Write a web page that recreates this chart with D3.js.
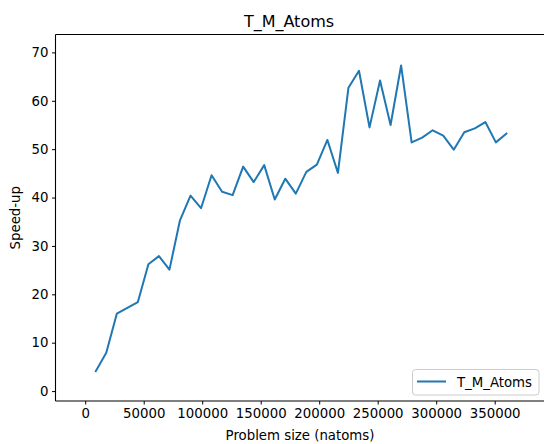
<!DOCTYPE html>
<html>
<head>
<meta charset="utf-8">
<script src="https://cdn.jsdelivr.net/npm/d3@7/dist/d3.min.js"></script>
<style>
  html, body { margin: 0; padding: 0; background: #fff; }
  svg { display: block; font-family: "DejaVu Sans", sans-serif; }
</style>
</head>
<body>
<svg id="chart" width="544" height="444"></svg>
<script>
// ---- data ----
const problemSize = [9000, 18000, 27000, 36000, 45000, 54000, 63000, 72000, 81000, 90000,
  99000, 108000, 117000, 126000, 135000, 144000, 153000, 162000, 171000, 180000,
  189000, 198000, 207000, 216000, 225000, 234000, 243000, 252000, 261000, 270000,
  279000, 288000, 297000, 306000, 315000, 324000, 333000, 342000, 351000, 360000];
const speedUp = [4.1, 7.9, 16.0, 17.2, 18.4, 26.2, 27.9, 25.1, 35.3, 40.4,
  37.8, 44.6, 41.2, 40.5, 46.4, 43.2, 46.7, 39.6, 43.9, 40.8,
  45.3, 46.8, 51.9, 45.1, 62.7, 66.2, 54.5, 64.2, 55.0, 67.3,
  51.4, 52.4, 53.9, 52.8, 49.9, 53.5, 54.3, 55.6, 51.4, 53.2];
const xTicks = [0, 50000, 100000, 150000, 200000, 250000, 300000, 350000];
const yTicks = [0, 10, 20, 30, 40, 50, 60, 70];
const seriesName = "T_M_Atoms";
const chartTitle = "T_M_Atoms";
const xLabel = "Problem size (natoms)";
const yLabel = "Speed-up";

// ---- layout ----
const pLeft = 55.5, pRight = 545, pTop = 34.5, pBottom = 401;
const svg = d3.select("#chart");
const fs = 13.3;

const x = d3.scaleLinear().domain([-25400, 393000]).range([pLeft, pRight]);
const y = d3.scaleLinear().domain([-2.05, 73.7]).range([pBottom, pTop]);

// axes
const xAxis = d3.axisBottom(x).tickValues(xTicks).tickFormat(d3.format("d")).tickSizeOuter(0).tickSize(3.5).tickPadding(3.5);
const yAxis = d3.axisLeft(y).tickValues(yTicks).tickFormat(d3.format("d")).tickSizeOuter(0).tickSize(3.5).tickPadding(3.5);

const gx = svg.append("g").attr("transform", `translate(0,${pBottom})`).call(xAxis);
const gy = svg.append("g").attr("transform", `translate(${pLeft},0)`).call(yAxis);
[gx, gy].forEach(g => {
  g.selectAll("text").attr("font-size", fs).attr("font-family", "DejaVu Sans").attr("fill", "#000");
  g.selectAll("line").attr("stroke", "#000").attr("stroke-width", 1);
  g.select(".domain").remove();
});
gx.selectAll("text").attr("dy", "0.75em");

// spines
svg.append("line").attr("x1", pLeft).attr("x2", pLeft).attr("y1", pTop).attr("y2", pBottom)
  .attr("stroke", "#000").attr("stroke-width", 1.1);
svg.append("line").attr("x1", pLeft).attr("x2", pRight).attr("y1", pBottom).attr("y2", pBottom)
  .attr("stroke", "#000").attr("stroke-width", 1.1);
svg.append("line").attr("x1", pLeft).attr("x2", pRight).attr("y1", pTop).attr("y2", pTop)
  .attr("stroke", "#000").attr("stroke-width", 1.1);

// line
const line = d3.line().x((d, i) => x(problemSize[i])).y(d => y(d));
svg.append("path").datum(speedUp)
  .attr("d", line)
  .attr("fill", "none")
  .attr("stroke", "#1f77b4")
  .attr("stroke-width", 2)
  .attr("stroke-linejoin", "round")
  .attr("stroke-linecap", "square");

// title and labels
svg.append("text").attr("x", 289).attr("y", 27).attr("text-anchor", "middle")
  .attr("font-size", 16).attr("fill", "#000").text(chartTitle);
svg.append("text").attr("x", 300).attr("y", 439.5).attr("text-anchor", "middle")
  .attr("font-size", fs).attr("fill", "#000").text(xLabel);
svg.append("text").attr("transform", `translate(19.5,${(pTop + pBottom) / 2}) rotate(-90)`)
  .attr("text-anchor", "middle").attr("font-size", fs).attr("fill", "#000").text(yLabel);

// legend
const lg = svg.append("g");
lg.append("rect").attr("x", 412.5).attr("y", 369.5).attr("width", 126.5).attr("height", 25.5)
  .attr("rx", 3).attr("fill", "#fff").attr("fill-opacity", 0.8)
  .attr("stroke", "#ccc").attr("stroke-width", 1);
lg.append("line").attr("x1", 417).attr("x2", 446).attr("y1", 381.5).attr("y2", 381.5)
  .attr("stroke", "#1f77b4").attr("stroke-width", 2);
lg.append("text").attr("x", 457).attr("y", 386.5).attr("font-size", fs).attr("fill", "#000").text(seriesName);
</script>
</body>
</html>
